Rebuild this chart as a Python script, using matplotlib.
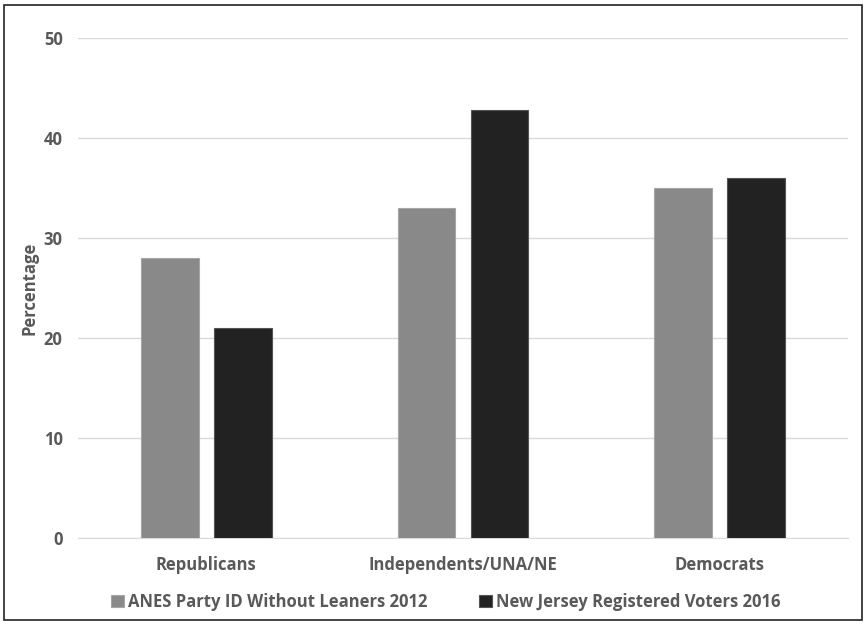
import matplotlib
matplotlib.use("Agg")
import matplotlib.pyplot as plt
import numpy as np
from matplotlib.patches import Rectangle

categories = ["Republicans", "Independents/UNA/NE", "Democrats"]
series_names = ["ANES Party ID Without Leaners 2012", "New Jersey Registered Voters 2016"]
anes_2012 = [28, 33, 35]
nj_2016 = [21, 42.8, 36]
y_ticks = [0, 10, 20, 30, 40, 50]

plt.rcParams["font.family"] = ["Open Sans", "DejaVu Sans"]
plt.rcParams["font.weight"] = "bold"
plt.rcParams["axes.labelweight"] = "bold"
text_color = "#595959"
fs = 12

fig = plt.figure(figsize=(8.67, 6.24), dpi=100)
ax = fig.add_axes([78 / 867, 1 - 538 / 624, 770 / 867, 500 / 624])

x = np.arange(len(categories))
width = 0.225
offset = 0.142
ax.bar(x - offset, anes_2012, width, color="#898989", edgecolor="#a6a6a6", linewidth=0.8,
       label=series_names[0], zorder=3)
ax.bar(x + offset, nj_2016, width, color="#222222", edgecolor="#555555", linewidth=0.8,
       label=series_names[1], zorder=3)

ax.set_xlim(-0.5, 2.5)
ax.set_ylim(0, 50)
ax.set_yticks(y_ticks)
ax.set_xticks(x)
ax.set_xticklabels(categories)
ax.yaxis.grid(True, color="#d9d9d9", linewidth=1, zorder=0)
ax.set_axisbelow(True)
for s in ["top", "right", "left"]:
    ax.spines[s].set_visible(False)
ax.spines["bottom"].set_color("#d9d9d9")
ax.tick_params(axis="both", length=0, labelsize=fs, labelcolor=text_color)
ax.tick_params(axis="x", pad=13)
ax.tick_params(axis="y", pad=11)
ax.set_ylabel("Percentage", fontsize=fs, color=text_color, labelpad=4)

leg = fig.legend(loc="center", bbox_to_anchor=(446 / 867, 1 - 602 / 624), ncol=2,
                 frameon=False, handlelength=0.78, handleheight=0.78,
                 handletextpad=0.25, columnspacing=3.1, borderpad=0, borderaxespad=0,
                 prop={"weight": "bold", "size": fs})
for t in leg.get_texts():
    t.set_color(text_color)

fig.patches.append(Rectangle((4 / 867, 4 / 624), 858 / 867, 615 / 624, transform=fig.transFigure,
                             fill=False, edgecolor="#222222", linewidth=1.2))

fig.savefig("out.png", dpi=100)
